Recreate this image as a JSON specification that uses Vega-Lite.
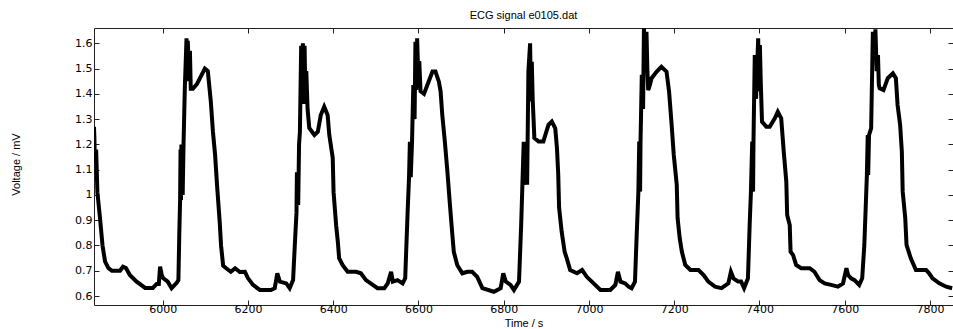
{
  "$schema": "https://vega.github.io/schema/vega-lite/v6.json",
  "width": 859,
  "height": 277,
  "autosize": {"type": "none"},
  "padding": {"left": 94, "top": 28, "right": 0, "bottom": 24},
  "background": "white",
  "title": {"text": "ECG signal e0105.dat", "font": "Liberation Sans", "fontSize": 11, "fontWeight": "normal", "color": "#000", "offset": 7},
  "config": {
    "view": {"stroke": "#222", "strokeWidth": 1},
    "axis": {"grid": false, "domain": false, "tickColor": "#222", "tickSize": -5, "labelFont": "DejaVu Sans", "labelFontSize": 11, "labelColor": "#000", "titleFont": "Liberation Sans", "titleFontSize": 11, "titleFontWeight": "normal", "titleColor": "#000"}
  },
  "data": {"values": [
    {"t":5839,"v":1.27},{"t":5840,"v":1.22},{"t":5841,"v":1.13},{"t":5844,"v":1.18},{"t":5847,"v":1.01},{"t":5853,"v":0.91},{"t":5859,"v":0.80},{"t":5865,"v":0.736},{"t":5873,"v":0.71},{"t":5881,"v":0.70},{"t":5900,"v":0.70},{"t":5907,"v":0.716},{"t":5914,"v":0.711},{"t":5923,"v":0.683},{"t":5939,"v":0.657},{"t":5959,"v":0.632},{"t":5977,"v":0.632},{"t":5986,"v":0.648},{"t":5991,"v":0.648},{"t":5994,"v":0.716},{"t":5998,"v":0.683},{"t":6001,"v":0.671},{"t":6012,"v":0.657},{"t":6021,"v":0.631},{"t":6033,"v":0.652},{"t":6037,"v":0.663},{"t":6039,"v":0.84},{"t":6041,"v":0.98},{"t":6042,"v":1.18},{"t":6043,"v":0.98},{"t":6044,"v":1.20},{"t":6047,"v":1.00},{"t":6049,"v":1.20},{"t":6052,"v":1.42},{"t":6056,"v":1.62},{"t":6058,"v":1.53},{"t":6059,"v":1.61},{"t":6062,"v":1.45},{"t":6064,"v":1.57},{"t":6066,"v":1.42},{"t":6071,"v":1.42},{"t":6081,"v":1.44},{"t":6090,"v":1.47},{"t":6099,"v":1.50},{"t":6106,"v":1.49},{"t":6113,"v":1.37},{"t":6118,"v":1.25},{"t":6123,"v":1.16},{"t":6128,"v":1.03},{"t":6134,"v":0.89},{"t":6137,"v":0.80},{"t":6142,"v":0.72},{"t":6149,"v":0.71},{"t":6160,"v":0.696},{"t":6170,"v":0.71},{"t":6181,"v":0.695},{"t":6193,"v":0.696},{"t":6200,"v":0.671},{"t":6212,"v":0.644},{"t":6228,"v":0.624},{"t":6254,"v":0.624},{"t":6263,"v":0.631},{"t":6269,"v":0.69},{"t":6275,"v":0.657},{"t":6290,"v":0.65},{"t":6298,"v":0.631},{"t":6306,"v":0.663},{"t":6310,"v":0.80},{"t":6314,"v":0.93},{"t":6315,"v":1.09},{"t":6318,"v":0.96},{"t":6320,"v":1.20},{"t":6322,"v":1.25},{"t":6325,"v":1.59},{"t":6328,"v":1.41},{"t":6329,"v":1.60},{"t":6332,"v":1.36},{"t":6333,"v":1.59},{"t":6335,"v":1.38},{"t":6337,"v":1.49},{"t":6340,"v":1.34},{"t":6344,"v":1.265},{"t":6356,"v":1.237},{"t":6364,"v":1.25},{"t":6371,"v":1.316},{"t":6379,"v":1.349},{"t":6387,"v":1.316},{"t":6391,"v":1.237},{"t":6399,"v":1.146},{"t":6401,"v":1.01},{"t":6407,"v":0.88},{"t":6411,"v":0.814},{"t":6414,"v":0.75},{"t":6422,"v":0.723},{"t":6434,"v":0.696},{"t":6454,"v":0.696},{"t":6465,"v":0.69},{"t":6477,"v":0.663},{"t":6493,"v":0.644},{"t":6504,"v":0.631},{"t":6520,"v":0.631},{"t":6528,"v":0.65},{"t":6536,"v":0.696},{"t":6540,"v":0.657},{"t":6551,"v":0.663},{"t":6563,"v":0.65},{"t":6569,"v":0.67},{"t":6575,"v":0.947},{"t":6578,"v":1.07},{"t":6580,"v":1.21},{"t":6582,"v":1.07},{"t":6585,"v":1.21},{"t":6588,"v":1.435},{"t":6591,"v":1.30},{"t":6593,"v":1.606},{"t":6595,"v":1.415},{"t":6597,"v":1.62},{"t":6600,"v":1.45},{"t":6602,"v":1.53},{"t":6605,"v":1.41},{"t":6613,"v":1.40},{"t":6621,"v":1.435},{"t":6633,"v":1.488},{"t":6640,"v":1.488},{"t":6648,"v":1.448},{"t":6652,"v":1.41},{"t":6656,"v":1.316},{"t":6662,"v":1.211},{"t":6668,"v":1.092},{"t":6674,"v":0.96},{"t":6679,"v":0.855},{"t":6683,"v":0.775},{"t":6691,"v":0.723},{"t":6703,"v":0.69},{"t":6715,"v":0.696},{"t":6726,"v":0.696},{"t":6738,"v":0.676},{"t":6750,"v":0.631},{"t":6777,"v":0.617},{"t":6793,"v":0.631},{"t":6799,"v":0.69},{"t":6805,"v":0.657},{"t":6816,"v":0.644},{"t":6824,"v":0.624},{"t":6836,"v":0.657},{"t":6841,"v":0.88},{"t":6847,"v":1.21},{"t":6851,"v":1.04},{"t":6853,"v":1.21},{"t":6855,"v":1.04},{"t":6858,"v":1.488},{"t":6862,"v":1.60},{"t":6864,"v":1.37},{"t":6866,"v":1.527},{"t":6868,"v":1.38},{"t":6872,"v":1.225},{"t":6882,"v":1.211},{"t":6893,"v":1.211},{"t":6905,"v":1.277},{"t":6913,"v":1.29},{"t":6921,"v":1.264},{"t":6925,"v":1.185},{"t":6928,"v":1.08},{"t":6930,"v":0.95},{"t":6936,"v":0.855},{"t":6943,"v":0.775},{"t":6948,"v":0.749},{"t":6956,"v":0.703},{"t":6972,"v":0.69},{"t":6984,"v":0.703},{"t":6995,"v":0.676},{"t":7011,"v":0.65},{"t":7027,"v":0.624},{"t":7050,"v":0.624},{"t":7062,"v":0.644},{"t":7068,"v":0.696},{"t":7074,"v":0.657},{"t":7085,"v":0.65},{"t":7093,"v":0.637},{"t":7100,"v":0.631},{"t":7108,"v":0.657},{"t":7112,"v":0.841},{"t":7116,"v":1.013},{"t":7118,"v":1.211},{"t":7120,"v":1.013},{"t":7121,"v":1.21},{"t":7124,"v":1.475},{"t":7127,"v":1.34},{"t":7129,"v":1.659},{"t":7132,"v":1.53},{"t":7135,"v":1.646},{"t":7137,"v":1.50},{"t":7139,"v":1.415},{"t":7143,"v":1.435},{"t":7147,"v":1.462},{"t":7159,"v":1.488},{"t":7170,"v":1.507},{"t":7182,"v":1.488},{"t":7188,"v":1.409},{"t":7194,"v":1.277},{"t":7199,"v":1.158},{"t":7206,"v":1.04},{"t":7208,"v":0.908},{"t":7213,"v":0.828},{"t":7218,"v":0.775},{"t":7226,"v":0.723},{"t":7238,"v":0.703},{"t":7257,"v":0.703},{"t":7269,"v":0.683},{"t":7280,"v":0.657},{"t":7296,"v":0.637},{"t":7311,"v":0.631},{"t":7327,"v":0.65},{"t":7333,"v":0.696},{"t":7339,"v":0.67},{"t":7350,"v":0.657},{"t":7357,"v":0.657},{"t":7364,"v":0.631},{"t":7373,"v":0.67},{"t":7377,"v":0.881},{"t":7380,"v":1.013},{"t":7383,"v":1.211},{"t":7385,"v":1.013},{"t":7386,"v":1.211},{"t":7389,"v":1.554},{"t":7392,"v":1.38},{"t":7397,"v":1.62},{"t":7399,"v":1.41},{"t":7401,"v":1.593},{"t":7403,"v":1.45},{"t":7406,"v":1.29},{"t":7416,"v":1.27},{"t":7424,"v":1.27},{"t":7436,"v":1.303},{"t":7443,"v":1.329},{"t":7451,"v":1.303},{"t":7457,"v":1.171},{"t":7463,"v":1.052},{"t":7465,"v":0.921},{"t":7471,"v":0.881},{"t":7473,"v":0.775},{"t":7479,"v":0.762},{"t":7486,"v":0.723},{"t":7498,"v":0.71},{"t":7518,"v":0.71},{"t":7529,"v":0.696},{"t":7541,"v":0.663},{"t":7553,"v":0.65},{"t":7568,"v":0.644},{"t":7584,"v":0.637},{"t":7596,"v":0.65},{"t":7604,"v":0.71},{"t":7608,"v":0.683},{"t":7615,"v":0.67},{"t":7623,"v":0.663},{"t":7634,"v":0.644},{"t":7641,"v":0.67},{"t":7646,"v":0.802},{"t":7652,"v":1.079},{"t":7654,"v":1.237},{"t":7655,"v":1.079},{"t":7657,"v":1.237},{"t":7662,"v":1.264},{"t":7666,"v":1.646},{"t":7669,"v":1.53},{"t":7672,"v":1.655},{"t":7675,"v":1.49},{"t":7678,"v":1.554},{"t":7680,"v":1.435},{"t":7682,"v":1.422},{"t":7691,"v":1.415},{"t":7701,"v":1.462},{"t":7713,"v":1.481},{"t":7720,"v":1.462},{"t":7724,"v":1.356},{"t":7730,"v":1.277},{"t":7734,"v":1.171},{"t":7736,"v":1.013},{"t":7742,"v":0.908},{"t":7745,"v":0.802},{"t":7755,"v":0.749},{"t":7767,"v":0.703},{"t":7791,"v":0.703},{"t":7798,"v":0.69},{"t":7806,"v":0.67},{"t":7822,"v":0.65},{"t":7838,"v":0.637},{"t":7852,"v":0.631}
  ]},
  "layer": [
    {
      "mark": {"type": "line", "color": "#000", "strokeWidth": 4, "clip": true, "strokeJoin": "miter"},
      "encoding": {
        "x": {"field": "t", "type": "quantitative", "scale": {"domain": [5839, 7854], "nice": false, "zero": false},
              "axis": {"orient": "bottom", "values": [6000, 6200, 6400, 6600, 6800, 7000, 7200, 7400, 7600, 7800], "format": "d", "labelPadding": 3, "title": "Time / s", "titleY": 12, "titleBaseline": "top"}},
        "y": {"field": "v", "type": "quantitative", "scale": {"domain": [0.5645, 1.6606], "nice": false, "zero": false},
              "axis": {"orient": "left", "values": [0.6, 0.7, 0.8, 0.9, 1, 1.1, 1.2, 1.3, 1.4, 1.5, 1.6], "format": ".1~f", "labelPadding": 7, "title": "Voltage / mV", "titleX": -78, "titleY": 136, "titleBaseline": "middle", "titleAngle": -90}}
      }
    },
    {
      "mark": {"type": "line", "strokeOpacity": 0},
      "encoding": {
        "x": {"field": "t", "type": "quantitative", "axis": {"orient": "top", "values": [6000, 6200, 6400, 6600, 6800, 7000, 7200, 7400, 7600, 7800], "labels": false, "title": null}},
        "y": {"field": "v", "type": "quantitative", "axis": {"orient": "right", "values": [0.6, 0.7, 0.8, 0.9, 1, 1.1, 1.2, 1.3, 1.4, 1.5, 1.6], "labels": false, "title": null}}
      }
    }
  ],
  "resolve": {"axis": {"x": "independent", "y": "independent"}}
}
